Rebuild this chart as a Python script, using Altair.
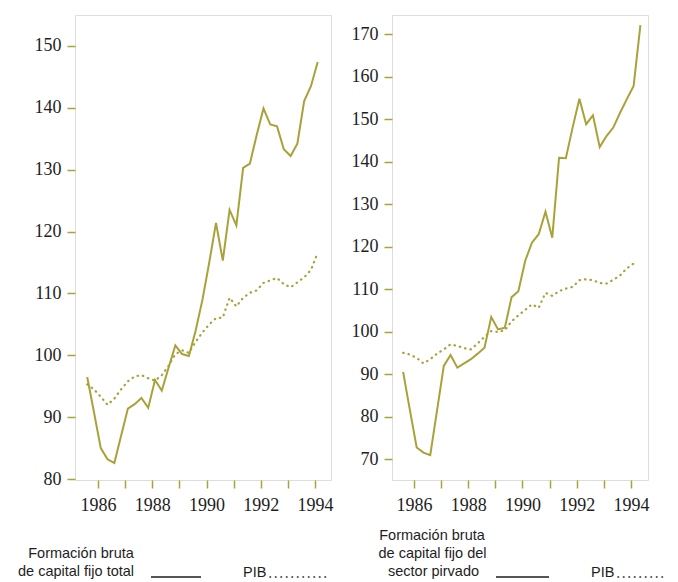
import altair as alt
import pandas as pd

# Quarterly index series (first point = 1985 III)
fbcf_total = [96.5, 90.8, 85.0, 83.2, 82.6, 87.0, 91.4, 92.1, 93.1, 91.5,
              96.0, 94.3, 98.0, 101.6, 100.2, 99.9, 104.0, 109.0, 115.0, 121.4,
              115.3, 123.5, 121.0, 130.3, 131.0, 135.6, 139.9, 137.3, 137.0, 133.3,
              132.2, 134.2, 141.1, 143.5, 147.4]
pib_left = [95.3, 94.5, 93.3, 92.0, 93.0, 94.5, 95.8, 96.6, 96.8, 96.3,
            95.9, 96.8, 98.3, 100.2, 100.8, 100.4, 102.2, 103.7, 105.0, 106.0,
            106.1, 109.3, 107.9, 109.3, 110.1, 110.5, 111.7, 112.1, 112.5, 111.5,
            111.0, 111.8, 112.6, 113.8, 116.6]
fbcf_privado = [90.5, 81.5, 72.7, 71.5, 70.9, 81.4, 91.9, 94.5, 91.5, 92.5,
                93.5, 94.8, 96.2, 103.4, 100.5, 100.9, 108.1, 109.5, 116.6, 120.9,
                122.9, 128.2, 122.1, 140.9, 140.8, 148.0, 154.8, 148.8, 150.9, 143.4,
                146.0, 148.0, 151.5, 154.7, 157.8, 172.1]
pib_right = [95.0, 94.6, 93.8, 92.5, 93.5, 94.8, 95.8, 97.0, 96.6, 96.1,
             95.8, 97.2, 98.8, 100.1, 99.9, 100.3, 102.4, 103.8, 105.1, 106.4,
             105.6, 109.1, 108.4, 109.5, 110.1, 110.5, 112.1, 112.3, 112.1, 111.4,
             111.3, 112.2, 113.2, 114.9, 116.0]

x_ticks = [1986, 1987, 1988, 1989, 1990, 1991, 1992, 1993, 1994]
y_ticks_left = [80, 90, 100, 110, 120, 130, 140, 150]
y_ticks_right = [70, 80, 90, 100, 110, 120, 130, 140, 150, 160, 170]

legend_left = ["Formación bruta", "de capital fijo total"]
legend_right = ["Formación bruta", "de capital fijo del", "sector pirvado"]
legend_pib = "PIB"

OLIVE = "#a8a23a"
FRAME = "#c4bc52"
INK = "#1e1e1e"
SERIF = "Liberation Serif"
SANS = "Liberation Sans"


def quarter_pos(n):
    return [1985.6 + 0.25 * i for i in range(n)]


def panel(solid, dotted, xdom, ydom, yticks, legend_lines, lg):
    df_s = pd.DataFrame({"t": quarter_pos(len(solid)), "v": solid})
    df_d = pd.DataFrame({"t": quarter_pos(len(dotted)), "v": dotted})
    xenc = alt.X("t:Q", scale=alt.Scale(domain=xdom, nice=False, zero=False),
                 axis=alt.Axis(values=x_ticks, title=None, grid=False, domain=False,
                               labelExpr="datum.value % 2 == 0 ? toString(datum.value) : ''",
                               tickColor=OLIVE, tickSize=8, tickWidth=1.5,
                               labelFont=SERIF, labelFontSize=18, labelColor=INK,
                               labelPadding=8, labelOverlap=False, labelFlush=False))
    yenc = alt.Y("v:Q", scale=alt.Scale(domain=ydom, nice=False, zero=False),
                 axis=alt.Axis(values=yticks, title=None, grid=False, domain=False,
                               tickColor=OLIVE, tickSize=8, tickWidth=1.5,
                               labelFont=SERIF, labelFontSize=18, labelColor=INK,
                               labelPadding=6, labelFlush=False, labelOverlap=False))
    solid_line = alt.Chart(df_s).mark_line(color=OLIVE, strokeWidth=2).encode(x=xenc, y=yenc)
    dotted_line = alt.Chart(df_d).mark_line(color=OLIVE, strokeWidth=2.2,
                                            strokeDash=[0.5, 5], strokeCap="round").encode(x=xenc, y=yenc)
    one = pd.DataFrame({"k": [0]})
    layers = [solid_line, dotted_line]
    for line, (tx, ty) in zip(legend_lines, lg["lines"]):
        layers.append(alt.Chart(one).mark_text(text=line, align="center", baseline="middle",
                                               font=SANS, fontSize=14.5, color=INK).encode(
            x=alt.value(tx), y=alt.value(ty)))
    layers.append(alt.Chart(one).mark_rule(color=INK, strokeWidth=1.5).encode(
        x=alt.value(lg["s0"]), x2=alt.value(lg["s1"]), y=alt.value(lg["sy"])))
    layers.append(alt.Chart(one).mark_text(text=legend_pib, align="left", baseline="middle",
                                           font=SANS, fontSize=14.5, color=INK).encode(
        x=alt.value(lg["px"]), y=alt.value(lg["py"])))
    layers.append(alt.Chart(one).mark_rule(color=INK, strokeWidth=1.6, strokeDash=[0.5, 5],
                                           strokeCap="round").encode(
        x=alt.value(lg["d0"]), x2=alt.value(lg["d1"]), y=alt.value(lg["dy"])))
    return alt.layer(*layers).properties(width=256, height=465)


left = panel(fbcf_total, pib_left, [1985.15, 1994.59], [79.85, 155.0], y_ticks_left, legend_left,
             dict(lines=[(6, 539), (1, 557)], s0=76, s1=126, sy=562,
                  px=168, py=558, d0=195, d1=253, dy=562))
right = panel(fbcf_privado, pib_right, [1985.19, 1994.63], [65.06, 174.5], y_ticks_right, legend_right,
              dict(lines=[(40, 521), (40.5, 539), (41.5, 557)], s0=104, s1=157, sy=562,
                   px=199, py=558, d0=226, d1=274, dy=562))

chart = alt.hconcat(left, right, spacing=16).properties(
    padding={"left": 9, "top": 6, "right": 0, "bottom": 0}
).configure_view(stroke=FRAME, strokeWidth=2).configure(background="white")

chart.save("out.html", embed_options={"renderer": "svg", "actions": False})
